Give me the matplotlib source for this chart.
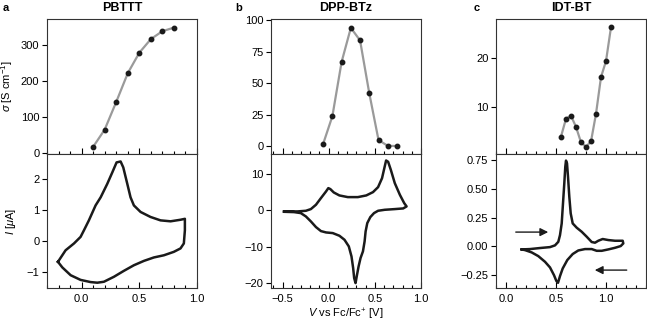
import matplotlib
matplotlib.use('Agg')
import matplotlib.pyplot as plt
from matplotlib.ticker import MultipleLocator

plt.rcParams['font.family'] = ['Liberation Sans', 'DejaVu Sans']
plt.rcParams['mathtext.fontset'] = 'custom'
plt.rcParams['mathtext.rm'] = 'Liberation Sans'
plt.rcParams['mathtext.it'] = 'Liberation Sans:italic'
plt.rcParams['axes.linewidth'] = 0.8

# conductivity vs potential
pbttt_v = [0.1, 0.2, 0.3, 0.4, 0.5, 0.6, 0.7, 0.8]
pbttt_sigma = [16, 64, 141, 221, 278, 316, 338, 348]

dpp_v = [-0.06, 0.04, 0.14, 0.24, 0.34, 0.44, 0.54, 0.64, 0.74]
dpp_sigma = [2, 24, 67, 94, 84, 42, 5, 0.5, 0.3]

idt_v = [0.55, 0.6, 0.65, 0.7, 0.75, 0.8, 0.85, 0.9, 0.95, 1.0, 1.05]
idt_sigma = [3.8, 7.5, 8.1, 5.8, 2.6, 1.7, 2.8, 8.5, 16.1, 19.4, 26.4]

# cyclic voltammograms (traced)
pbttt_cv_v = [-0.205, -0.139, -0.066, -0.009, 0.02, 0.063, 0.121, 0.165, 0.222, 0.266,
              0.303, 0.338, 0.361, 0.396, 0.424, 0.453, 0.511, 0.597, 0.684, 0.771,
              0.857, 0.895, 0.895, 0.886, 0.857, 0.799, 0.713, 0.626, 0.54, 0.453,
              0.366, 0.28, 0.193, 0.136, 0.078, -0.009, -0.095, -0.167, -0.205]
pbttt_cv_i = [-0.66, -0.29, -0.07, 0.14, 0.35, 0.67, 1.15, 1.41, 1.84, 2.21,
              2.53, 2.56, 2.37, 1.84, 1.41, 1.15, 0.94, 0.78, 0.67, 0.64,
              0.69, 0.72, 0.35, -0.07, -0.23, -0.34, -0.45, -0.52, -0.63, -0.77,
              -0.95, -1.14, -1.30, -1.33, -1.31, -1.24, -1.09, -0.84, -0.66]

dpp_cv_v = [-0.484, -0.338, -0.247, -0.193, -0.138, -0.084, -0.029, -0.004, 0.018, 0.055,
            0.116, 0.207, 0.316, 0.407, 0.48, 0.535, 0.578, 0.607, 0.622, 0.644,
            0.673, 0.716, 0.771, 0.818, 0.844,
            0.807, 0.716, 0.607, 0.535, 0.491, 0.451, 0.418, 0.4, 0.389, 0.371,
            0.345, 0.324, 0.305, 0.291, 0.276, 0.265, 0.247, 0.218, 0.171, 0.116,
            0.044, -0.029, -0.084, -0.138, -0.193, -0.247, -0.302, -0.375, -0.484]
dpp_cv_i = [-0.27, -0.27, -0.09, 0.37, 1.56, 3.39, 5.21, 6.13, 5.86, 4.94,
            4.12, 3.66, 3.66, 4.12, 5.03, 6.40, 8.87, 12.08, 13.72, 13.36,
            11.16, 7.50, 4.30, 2.01, 1.10,
            0.55, 0.37, 0.18, -0.09, -0.73, -1.83, -3.48, -5.76, -8.51, -11.25,
            -13.08, -15.37, -17.93, -19.95, -18.57, -15.83, -12.63, -9.88, -8.05, -6.95,
            -6.22, -6.04, -5.67, -4.57, -3.02, -1.65, -0.73, -0.46, -0.37]

idt_cv_v = [0.157, 0.24, 0.34, 0.44, 0.49, 0.523, 0.54, 0.557, 0.57, 0.583,
            0.593, 0.6, 0.61, 0.62, 0.633, 0.647, 0.667, 0.707, 0.757, 0.807,
            0.857, 0.89, 0.923, 0.967, 1.023, 1.09, 1.167,
            1.173, 1.147, 1.09, 1.023, 0.957, 0.907, 0.857, 0.79, 0.723, 0.667,
            0.613, 0.567, 0.54, 0.52, 0.503, 0.48, 0.44, 0.39, 0.323, 0.257,
            0.19, 0.157]
idt_cv_i = [-0.026, -0.023, -0.014, -0.006, 0.009, 0.04, 0.098, 0.199, 0.373, 0.546,
            0.691, 0.743, 0.72, 0.604, 0.431, 0.286, 0.199, 0.162, 0.127, 0.084,
            0.038, 0.032, 0.049, 0.064, 0.055, 0.049, 0.049,
            0.026, 0.003, -0.012, -0.026, -0.038, -0.038, -0.023, -0.023, -0.035, -0.066,
            -0.118, -0.191, -0.257, -0.315, -0.298, -0.249, -0.182, -0.133, -0.084, -0.052,
            -0.032, -0.026]

titles = ['PBTTT', 'DPP-BTz', 'IDT-BT']
letters = ['a', 'b', 'c']
sigma_data = [(pbttt_v, pbttt_sigma), (dpp_v, dpp_sigma), (idt_v, idt_sigma)]
cv_data = [(pbttt_cv_v, pbttt_cv_i), (dpp_cv_v, dpp_cv_i), (idt_cv_v, idt_cv_i)]
xlims = [(-0.3, 1.0), (-0.625, 1.0), (-0.1, 1.4)]
top_ylims = [(-4, 372), (-6, 101), (0.2, 28.1)]
bot_ylims = [(-1.5, 2.8), (-21.3, 15.5), (-0.36, 0.80)]
top_yticks = [[0, 100, 200, 300], [0, 25, 50, 75, 100], [10, 20]]
bot_yticks = [[-1, 0, 1, 2], [-20, -10, 0, 10], [-0.25, 0, 0.25, 0.5, 0.75]]
bot_yticklabels = [None, None, ['\u22120.25', '0.00', '0.25', '0.50', '0.75']]

W, H = 647, 324
lefts = [47, 271, 496]
letter_x = [3, 235, 474]
fig = plt.figure(figsize=(6.47, 3.24), dpi=100)

for k in range(3):
    x0 = lefts[k] / W
    w = 150 / W
    ax_top = fig.add_axes([x0, (H - 154) / H, w, 135 / H])
    ax_bot = fig.add_axes([x0, (H - 288) / H, w, 134 / H], sharex=ax_top)

    ax_top.plot(*sigma_data[k], color='#9a9a9a', lw=1.6, zorder=1)
    ax_top.plot(*sigma_data[k], 'o', color='#1a1a1a', ms=3.2, zorder=2)
    ax_bot.plot(*cv_data[k], color='#1a1a1a', lw=1.8)

    ax_top.set_xlim(*xlims[k])
    ax_top.set_ylim(*top_ylims[k])
    ax_bot.set_ylim(*bot_ylims[k])
    ax_top.set_yticks(top_yticks[k])
    ax_bot.set_yticks(bot_yticks[k])
    if bot_yticklabels[k]:
        ax_bot.set_yticklabels(bot_yticklabels[k])

    for ax in (ax_top, ax_bot):
        ax.xaxis.set_major_locator(MultipleLocator(0.5))
        ax.xaxis.set_minor_locator(MultipleLocator(0.1))
        ax.tick_params(axis='x', which='major', direction='in', length=4, width=0.8,
                       labelsize=8, pad=4)
        ax.tick_params(axis='x', which='minor', direction='in', length=2.2, width=0.8)
        ax.tick_params(axis='y', which='major', direction='out', length=3.5, width=0.8,
                       labelsize=8, pad=2)
        for s in ax.spines.values():
            s.set_color('#333333')
    ax_top.tick_params(axis='x', labelbottom=False)

    ax_top.set_title(titles[k], fontsize=9, fontweight='bold', pad=6)
    fig.text(letter_x[k] / W, 1 - 8 / H, letters[k],
             fontsize=8, fontweight='bold', va='center', ha='left')

    if k == 0:
        ax_top.set_ylabel(r'$\sigma$ [S cm$^{-1}$]', fontsize=8)
        ax_top.yaxis.set_label_coords(-0.21, 0.5)
        ax_bot.set_ylabel(r'$I$ [$\mu$A]', fontsize=8)
        ax_bot.yaxis.set_label_coords(-0.19, 0.5)
    if k == 1:
        ax_bot.set_xlabel(r'$V$ vs Fc/Fc$^{+}$ [V]', fontsize=8, labelpad=2)
    if k == 2:
        ax_bot.annotate('', xy=(0.45, 0.124), xytext=(0.07, 0.124),
                        arrowprops=dict(arrowstyle='-|>', color='#1a1a1a', lw=1.0,
                                        mutation_scale=12))
        ax_bot.annotate('', xy=(0.86, -0.205), xytext=(1.235, -0.205),
                        arrowprops=dict(arrowstyle='-|>', color='#1a1a1a', lw=1.0,
                                        mutation_scale=12))

fig.savefig('out.png', dpi=100)
